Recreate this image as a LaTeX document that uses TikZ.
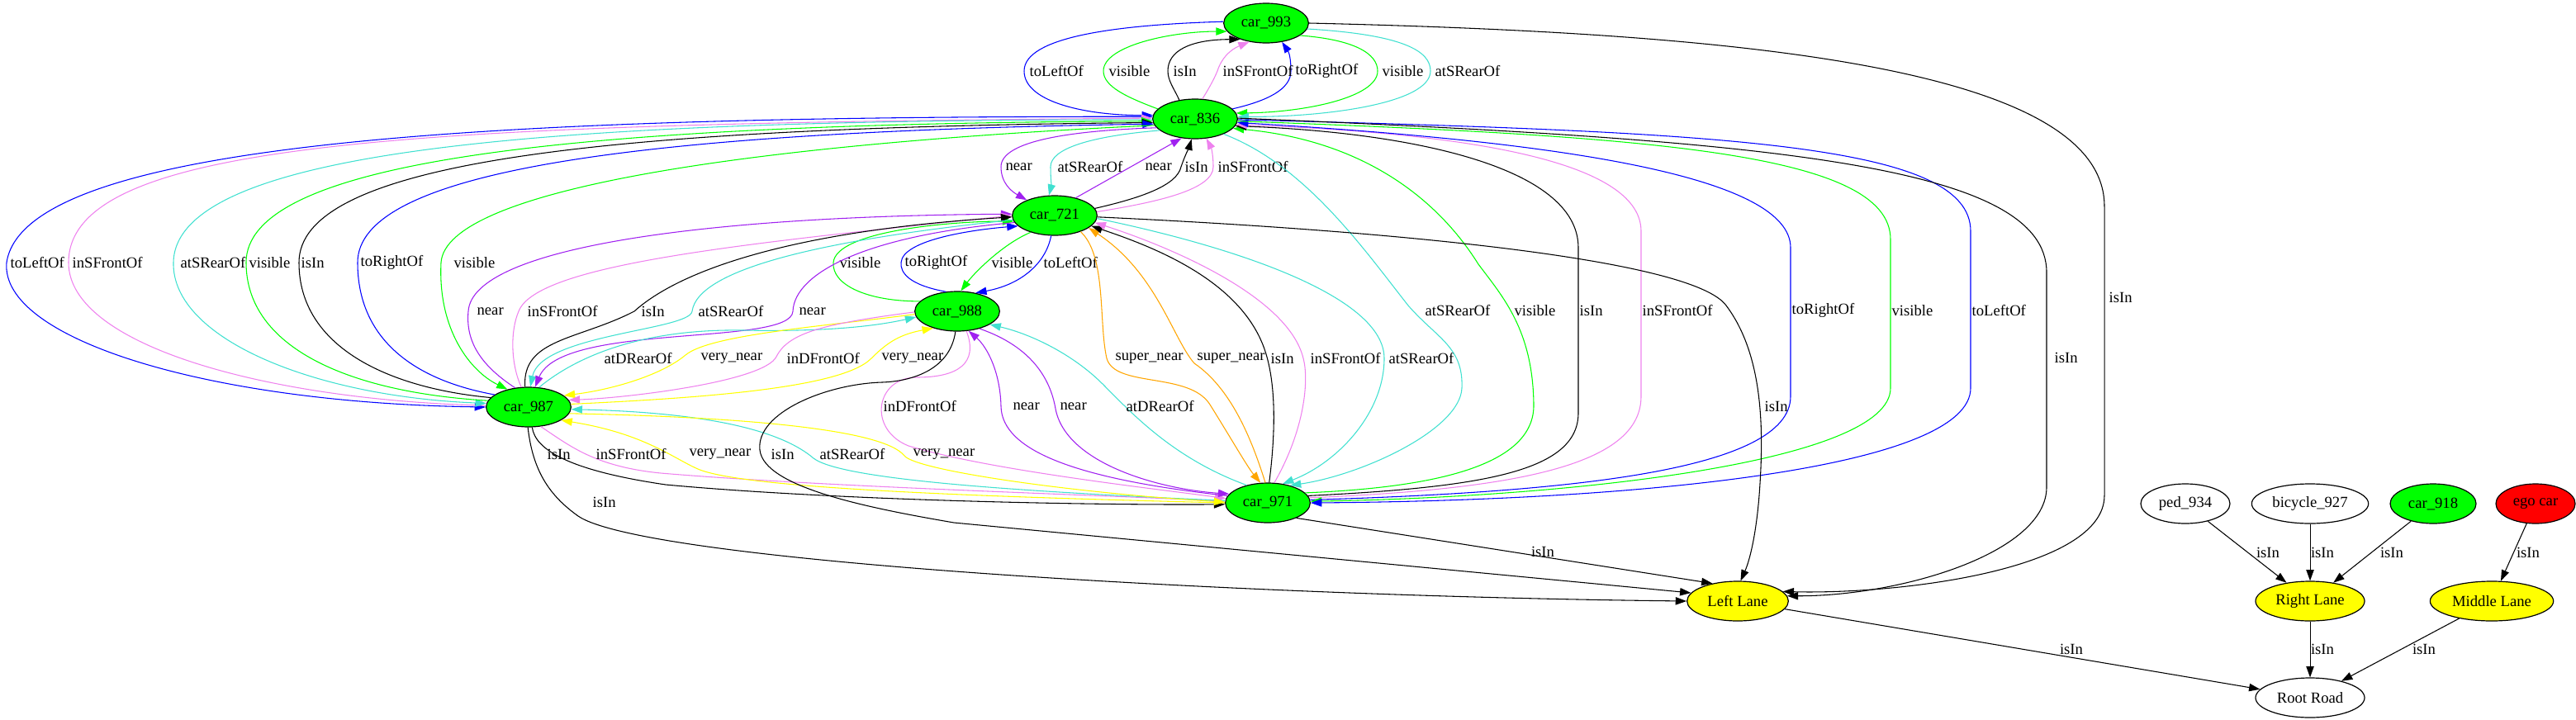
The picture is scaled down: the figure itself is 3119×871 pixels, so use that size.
\documentclass[tikz,border=0pt]{standalone}
\usepackage{fontspec}
\setmainfont{Liberation Serif}
\usetikzlibrary{shapes.geometric,arrows.meta}

\definecolor{gvgreen}{HTML}{00FF00}
\definecolor{gvblue}{HTML}{0000FF}
\definecolor{gvviolet}{HTML}{EE82EE}
\definecolor{gvturq}{HTML}{40E0D0}
\definecolor{gvpurple}{HTML}{A020F0}
\definecolor{gvyellow}{HTML}{FFFF00}
\definecolor{gvorange}{HTML}{FFA500}
\definecolor{gvred}{HTML}{FF0000}

\tikzset{
  obj/.style={draw, ellipse, line width=0.9pt, minimum height=36pt, inner sep=0pt},
  car/.style={obj, fill=gvgreen, minimum width=77pt},
  lane/.style={obj, fill=gvyellow},
  rel/.style={-{Triangle[length=10pt,width=7pt]}, line width=0.8pt},
  lbl/.style={anchor=west, inner sep=1pt},
  tag/.style={inner sep=1pt},
}

\begin{document}
\begin{tikzpicture}[x=0.75pt, y=-0.75pt, font=\fontsize{14}{16}\selectfont]
   % pixel grid, y grows downwards
   \useasboundingbox (0,0) rectangle (3119,871);

   \node[car] (c993) at (1533,28) {car\_993};
   \node[car] (c836) at (1447,144) {car\_836};
   \node[car] (c721) at (1277,261) {car\_721};
   \node[car] (c988) at (1159,377) {car\_988};
   \node[car] (c987) at (640,493) {car\_987};
   \node[car] (c971) at (1535,609) {car\_971};
   \node[lane, minimum width=92pt] (leftlane) at (2104,728) {Left Lane};
   \node[obj, minimum width=81pt] (ped) at (2646,610) {ped\_934};
   \node[obj, minimum width=106pt] (bike) at (2797,610) {bicycle\_927};
   \node[car, minimum width=78pt] (c918) at (2946,610) {car\_918};
   \node[obj, fill=gvred, minimum width=72pt] (ego) at (3070,610) {ego car};
   \node[lane, minimum width=99pt] (rightlane) at (2797,728) {Right Lane};
   \node[lane, minimum width=112pt] (midlane) at (3017,728) {Middle Lane};
   \node[obj, minimum width=99pt] (rootroad) at (2797,845) {Root Road};

   % car_993 <-> car_836
   \draw[rel,gvblue] (c993.178) .. controls (1350,30) and (1240,45) .. (1240,86) .. controls (1240,125) and (1320,140) .. (c836.175);
   \draw[rel,gvgreen] (c836.165) .. controls (1365,118) and (1336,105) .. (1336,86) .. controls (1336,55) and (1420,38) .. (c993.192);
   \draw[rel] (c836.130) .. controls (1422,108) and (1414,98) .. (1414,86) .. controls (1414,62) and (1440,48) .. (c993.212);
   \draw[rel,gvviolet] (c836.70) .. controls (1462,110) and (1470,96) .. (1474,86) .. controls (1479,70) and (1490,60) .. (c993.228);
   \draw[rel,gvblue] (c836.15) .. controls (1535,122) and (1563,108) .. (1563,86) .. controls (1563,72) and (1561,64) .. (c993.-50);
   \draw[rel,gvgreen] (c993.-20) .. controls (1640,48) and (1668,65) .. (1668,86) .. controls (1668,118) and (1580,136) .. (c836.8);
   \draw[rel,gvturq] (c993.-8) .. controls (1700,42) and (1732,62) .. (1732,86) .. controls (1732,126) and (1600,142) .. (c836.3);
   \foreach \lx/\lt [count=\i] in {1245/toLeftOf,1341/visible,1419/isIn,1479/inSFrontOf,1567/toRightOf,1672/visible,1736/atSRearOf}
     \node[lbl] (la\i) at (\lx,86) {\lt};

   % car_836 <-> car_721
   \draw[rel,gvpurple] (c836.193) .. controls (1300,158) and (1212,170) .. (1212,202) .. controls (1212,222) and (1225,232) .. (c721.151);
   \draw[rel,gvturq] (c836.198) .. controls (1320,165) and (1272,180) .. (1272,202) .. controls (1272,215) and (1273,225) .. (c721.106);
   \draw[rel,gvpurple] (c721.40) -- (c836.235);
   \draw[rel] (c721.10) .. controls (1380,240) and (1425,225) .. (1430,202) .. controls (1436,185) and (1440,178) .. (c836.-100);
   \draw[rel,gvviolet] (c721.5) .. controls (1400,245) and (1469,230) .. (1469,202) .. controls (1469,190) and (1467,180) .. (c836.-60);
   \foreach \lx/\lt [count=\i] in {1216/near,1279/atSRearOf,1385/near,1433/isIn,1473/inSFrontOf}
     \node[lbl] (lb\i) at (\lx,202) {\lt};

   % car_836 <-> car_987, the wide loops on the left
   \draw[rel,gvblue] (c836.177) .. controls (600,140) and (30,170) .. (8,318) .. controls (0,410) and (250,488) .. (c987.180);
   \draw[rel,gvviolet] (c987.178) .. controls (330,485) and (83,420) .. (83,318) .. controls (83,170) and (500,150) .. (c836.179);
   \draw[rel,gvturq] (c836.181) .. controls (700,145) and (212,175) .. (210,318) .. controls (208,410) and (380,480) .. (c987.175);
   \draw[rel,gvgreen] (c987.171) .. controls (420,475) and (298,420) .. (298,318) .. controls (298,200) and (650,150) .. (c836.183);
   \draw[rel] (c987.166) .. controls (470,470) and (362,420) .. (362,318) .. controls (362,200) and (700,155) .. (c836.185);
   \draw[rel,gvblue] (c987.160) .. controls (500,460) and (433,410) .. (433,318) .. controls (433,210) and (750,160) .. (c836.187);
   \draw[rel,gvgreen] (c836.189) .. controls (900,175) and (540,230) .. (534,318) .. controls (530,400) and (570,450) .. (c987.140);
   \foreach \lx/\lt [count=\i] in {11/toLeftOf,86/inSFrontOf,217/atSRearOf,300/visible,363/isIn,435/toRightOf,548/visible}
     \node[lbl] (lc\i) at (\lx,318) {\lt};

   % car_721 <-> car_988
   \draw[rel,gvgreen] (c988.165) .. controls (1050,365) and (1007,345) .. (1009,318) .. controls (1012,280) and (1150,268) .. (c721.188);
   \draw[rel,gvblue] (c988.120) .. controls (1100,345) and (1090,330) .. (1091,318) .. controls (1093,290) and (1180,278) .. (c721.196);
   \draw[rel,gvgreen] (c721.215) .. controls (1215,295) and (1180,330) .. (c988.80);
   \draw[rel,gvblue] (c721.-100) .. controls (1266,320) and (1235,345) .. (c988.45);
   \foreach \lx/\lt [count=\i] in {1015/visible,1094/toRightOf,1199/visible,1262/toLeftOf}
     \node[lbl] (lf\i) at (\lx,318) {\lt};

   % car_721 <-> car_987
   \draw[rel,gvpurple] (c987.125) .. controls (578,440) and (564,410) .. (567,377) .. controls (572,300) and (850,262) .. (c721.178);
   \draw[rel,gvviolet] (c987.110) .. controls (618,440) and (618,400) .. (628,377) .. controls (650,320) and (900,295) .. (c721.180);
   \draw[rel] (c987.100) .. controls (632,410) and (700,412) .. (768,377) .. controls (820,330) and (950,280) .. (c721.182);
   \draw[rel,gvturq] (c721.186) .. controls (1000,290) and (845,325) .. (838,377) .. controls (835,400) and (655,405) .. (c987.85);
   \draw[rel,gvpurple] (c721.190) .. controls (1050,285) and (962,330) .. (960,377) .. controls (958,420) and (680,390) .. (c987.72);
   \foreach \lx/\lt [count=\i] in {576/near,637/inSFrontOf,775/isIn,844/atSRearOf,966/near}
     \node[lbl] (ld\i) at (\lx,377) {\lt};

   % car_988 <-> car_987
   \draw[rel,gvturq] (c987.62) .. controls (700,430) and (780,398) .. (900,400) .. controls (1000,402) and (1060,395) .. (c988.188);
   \draw[rel,gvyellow] (c988.184) .. controls (1000,395) and (860,405) .. (830,430) .. controls (800,455) and (740,472) .. (c987.18);
   \draw[rel,gvviolet] (c988.181) .. controls (1000,392) and (955,402) .. (940,432) .. controls (925,462) and (760,482) .. (c987.10);
   \draw[rel,gvyellow] (c987.4) .. controls (850,482) and (1020,470) .. (1055,434) .. controls (1075,414) and (1090,405) .. (c988.215);
   \foreach \lx/\lt [count=\i] in {730/atDRearOf,847/very\_near,951/inDFrontOf,1066/very\_near}
     \node[lbl] (le\i) at (\lx,434) {\lt};

   % car_988 <-> car_971
   \draw[rel,gvviolet] (c988.-65) .. controls (1185,440) and (1160,457) .. (1110,457) .. controls (1060,457) and (1050,520) .. (1100,540) .. controls (1200,570) and (1400,592) .. (c971.174);
   \draw[rel,gvpurple] (c971.170) .. controls (1300,580) and (1213,545) .. (1212,492) .. controls (1211,450) and (1195,420) .. (c988.-60);
   \draw[rel,gvpurple] (c988.-38) .. controls (1250,420) and (1272,460) .. (1278,495) .. controls (1290,560) and (1400,592) .. (c971.167);
   \draw[rel,gvturq] (c971.140) .. controls (1420,555) and (1370,500) .. (1335,465) .. controls (1300,430) and (1250,405) .. (c988.-22);
   \foreach \lx/\lt [count=\i] in {1068/inDFrontOf,1225/near,1282/near,1362/atDRearOf}
     \node[lbl] (lg\i) at (\lx,492) {\lt};

   % car_721 <-> car_971
   \draw[rel,gvorange] (c721.-32) .. controls (1340,310) and (1330,390) .. (1340,434) .. controls (1350,470) and (1440,450) .. (1465,490) .. controls (1490,530) and (1510,565) .. (c971.110);
   \draw[rel,gvorange] (c971.97) .. controls (1515,530) and (1490,470) .. (1446,440) .. controls (1420,410) and (1400,330) .. (c721.-20);
   \draw[rel] (c971.86) .. controls (1545,520) and (1545,460) .. (1530,420) .. controls (1500,340) and (1400,300) .. (c721.-16);
   \draw[rel,gvviolet] (c971.72) .. controls (1580,520) and (1585,460) .. (1578,434) .. controls (1560,360) and (1420,300) .. (c721.-10);
   \draw[rel,gvturq] (c721.-4) .. controls (1500,300) and (1676,360) .. (1676,434) .. controls (1676,500) and (1620,560) .. (c971.52);
   \foreach \lx/\lt [count=\i] in {1349/super\_near,1448/super\_near,1537/isIn,1585/inSFrontOf,1680/atSRearOf}
     \node[lbl] (lh\i) at (\lx,434) {\lt};

   % car_836 <-> car_971, the loops on the right
   \draw[rel,gvturq] (c836.-28) .. controls (1580,200) and (1650,300) .. (1705,370) .. controls (1740,410) and (1772,420) .. (1770,470) .. controls (1768,520) and (1650,575) .. (c971.38);
   \draw[rel,gvgreen] (c971.15) .. controls (1750,590) and (1858,560) .. (1857,490) .. controls (1856,400) and (1820,360) .. (1790,320) .. controls (1740,240) and (1650,170) .. (c836.-14);
   \draw[rel] (c971.10) .. controls (1800,590) and (1911,570) .. (1911,500) -- (1911,300) .. controls (1911,200) and (1700,160) .. (c836.-10);
   \draw[rel,gvviolet] (c971.7) .. controls (1850,592) and (1987,560) .. (1987,480) -- (1987,280) .. controls (1987,200) and (1800,162) .. (c836.-8);
   \draw[rel,gvblue] (c971.4) .. controls (1900,596) and (2168,570) .. (2168,480) -- (2168,300) .. controls (2168,215) and (1900,172) .. (c836.-5);
   \draw[rel,gvgreen] (c836.-3) .. controls (2000,165) and (2289,185) .. (2289,290) -- (2289,470) .. controls (2289,560) and (1900,602) .. (c971.2);
   \draw[rel,gvblue] (c836.-1) .. controls (2100,160) and (2386,175) .. (2386,280) -- (2386,470) .. controls (2386,565) and (2000,606) .. (c971.0);
   \foreach \lx/\lt [count=\i] in {1724/atSRearOf,1832/visible,1911/isIn,1987/inSFrontOf,2168/toRightOf,2289/visible,2386/toLeftOf}
     \node[lbl] (li\i) at (\lx,376) {\lt};

   % car_987 <-> car_971
   \draw[rel] (c987.-80) .. controls (648,545) and (690,570) .. (806,587) .. controls (1000,605) and (1300,612) .. (c971.182);
   \draw[rel,gvviolet] (c987.-58) .. controls (690,540) and (720,565) .. (800,573) .. controls (1000,590) and (1350,600) .. (c971.178);
   \draw[rel,gvyellow] (c971.180) .. controls (1200,602) and (900,592) .. (845,568) .. controls (815,555) and (780,525) .. (c987.-22);
   \draw[rel,gvturq] (c971.177) .. controls (1250,596) and (1020,582) .. (985,555) .. controls (950,525) and (870,500) .. (c987.-3);
   \draw[rel,gvyellow] (c987.-9) .. controls (900,505) and (1070,520) .. (1095,552) .. controls (1110,570) and (1300,597) .. (c971.179);
   \foreach \lx/\lt [count=\i] in {661/isIn,720/inSFrontOf,833/very\_near,932/isIn,991/atSRearOf,1104/very\_near}
     \node[lbl] (lk\i) at (\lx,550) {\lt};

   % everything that isIn Left Lane
   \draw[rel] (c993.0) .. controls (2100,40) and (2548,80) .. (2548,250) -- (2548,600) .. controls (2548,690) and (2300,720) .. (leftlane.12);
   \draw[rel] (c836.1) .. controls (2150,170) and (2478,200) .. (2478,330) -- (2478,590) .. controls (2478,670) and (2300,722) .. (leftlane.6);
   \draw[rel] (c721.-2) .. controls (1700,280) and (2050,315) .. (2090,370) .. controls (2135,430) and (2136,520) .. (2130,600) .. controls (2126,650) and (2118,680) .. (leftlane.82);
   \draw[rel] (c987.-92) .. controls (645,570) and (665,600) .. (700,625) .. controls (780,680) and (1500,722) .. (leftlane.180);
   \draw[rel] (c988.-95) .. controls (1150,450) and (1100,462) .. (1068,463) .. controls (1000,465) and (915,500) .. (920,545) .. controls (925,590) and (1050,615) .. (1155,633) -- (leftlane.170);
   \draw[rel] (c971.-28) -- (leftlane.145);
   \node[lbl] (lj1) at (2552,360) {isIn};
   \node[lbl] (lj2) at (2486,433) {isIn};
   \node[lbl] (lj3) at (2135,492) {isIn};
   \node[lbl] (lj4) at (716,608) {isIn};
   \node[tag] (lj5) at (1868,668) {isIn};

   % lanes and road
   \draw[rel] (ped) -- (rightlane);
   \draw[rel] (bike) -- (rightlane);
   \draw[rel] (c918) -- (rightlane);
   \draw[rel] (ego) -- (midlane);
   \draw[rel] (leftlane) -- (rootroad);
   \draw[rel] (rightlane) -- (rootroad);
   \draw[rel] (midlane) -- (rootroad);
   \foreach \lx/\ly [count=\i] in {2746/669,2812/669,2896/669,3061/669,2508/786,2812/786,2935/786}
     \node[tag] (lr\i) at (\lx,\ly) {isIn};
\end{tikzpicture}
\end{document}
